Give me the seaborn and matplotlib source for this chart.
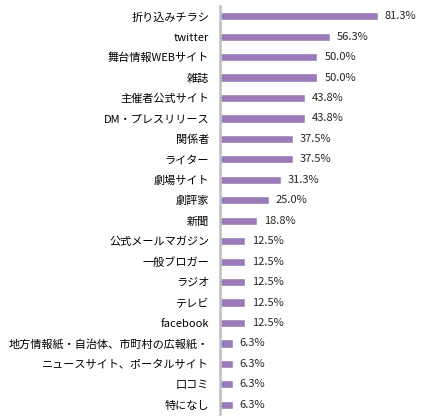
import matplotlib
matplotlib.use("Agg")
import matplotlib.pyplot as plt
import seaborn as sns
import pandas as pd

# 項目と割合（%）
categories = [
    "折り込みチラシ", "twitter", "舞台情報WEBサイト", "雑誌", "主催者公式サイト",
    "DM・プレスリリース", "関係者", "ライター", "劇場サイト", "劇評家", "新聞",
    "公式メールマガジン", "一般ブロガー", "ラジオ", "テレビ", "facebook",
    "地方情報紙・自治体、市町村の広報紙・", "ニュースサイト、ポータルサイト", "口コミ", "特になし",
]
values = [81.3, 56.3, 50.0, 50.0, 43.8, 43.8, 37.5, 37.5, 31.3, 25.0, 18.8,
          12.5, 12.5, 12.5, 12.5, 12.5, 6.3, 6.3, 6.3, 6.3]

df = pd.DataFrame({"項目": categories, "割合": values})

sns.set_theme(style="white")
plt.rcParams["font.family"] = ["Noto Sans CJK JP", "DejaVu Sans"]

fig = plt.figure(figsize=(4.28, 4.17), dpi=100)
ax = fig.add_axes([0.515, 0.0072, 0.453, 0.9784])

sns.barplot(data=df, x="割合", y="項目", orient="h", color="#9a7ab8",
            saturation=1, width=0.4, ax=ax)

ax.set_xlim(0, 100)
ax.set_ylim(19.45, -0.5)
ax.set_xlabel("")
ax.set_ylabel("")
ax.set_xticks([])
for s in ["top", "right", "bottom"]:
    ax.spines[s].set_visible(False)
ax.spines["left"].set_color("#bfbfbf")
ax.spines["left"].set_linewidth(1.8)
ax.tick_params(axis="y", length=0, pad=8, labelsize=8, colors="#000000")

ax.bar_label(ax.containers[0], labels=[f"{v:.1f}%" for v in values],
             padding=5, fontsize=8)

fig.savefig("out.png", dpi=100)
